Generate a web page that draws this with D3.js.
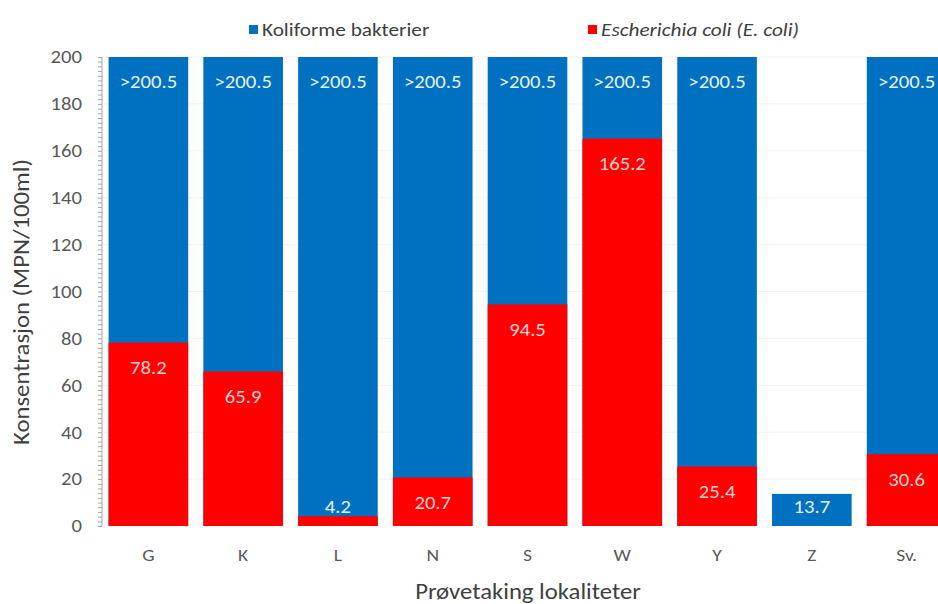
<!DOCTYPE html>
<html>
<head>
<meta charset="utf-8">
<script src="https://cdn.jsdelivr.net/npm/d3@7"></script>
<style>
  html, body { margin: 0; padding: 0; background: #fff; }
  svg { display: block; font-family: Carlito, Lato, "Open Sans", sans-serif; }
</style>
</head>
<body>
<svg id="chart" width="938" height="604"></svg>
<script>
// Sampling sites
const sites = ["G", "K", "L", "N", "S", "W", "Y", "Z", "Sv."];
// Coliform bacteria (MPN/100ml); 200.5 = upper detection limit (shown as ">200.5")
const coliform = [200.5, 200.5, 200.5, 200.5, 200.5, 200.5, 200.5, 13.7, 200.5];
// E. coli (MPN/100ml); null = not reported
const ecoli = [78.2, 65.9, 4.2, 20.7, 94.5, 165.2, 25.4, null, 30.6];
// Axis ticks
const yTicks = [0, 20, 40, 60, 80, 100, 120, 140, 160, 180, 200];
const seriesNames = ["Koliforme bakterier", "Escherichia coli (E. coli)"];
const colors = ["#0070C0", "#FF0000"];

const SX = 1.15; // horizontal glyph stretch

const svg = d3.select("#chart");

// place a text at (px,py) with optional rotation, glyphs stretched along the baseline
function label(sel, px, py, rot) {
  return sel.attr("x", 0).attr("y", 0)
    .attr("transform", (d, i) => {
      const X = typeof px === "function" ? px(d, i) : px;
      const Y = typeof py === "function" ? py(d, i) : py;
      return `translate(${X},${Y})` + (rot ? ` rotate(${rot})` : "") + ` scale(${SX},1)`;
    });
}

const x = d3.scaleBand().domain(sites).range([101, 954]).paddingInner(0.16).paddingOuter(0.08);
const y = d3.scaleLinear().domain([0, 200]).range([526, 57]).clamp(true);

// Light horizontal gridlines
svg.append("g").selectAll("line").data(yTicks.slice(1)).join("line")
  .attr("x1", 103).attr("x2", 938)
  .attr("y1", d => y(d)).attr("y2", d => y(d))
  .attr("stroke", "#f3f3f3").attr("stroke-width", 1);

const fmt = v => v > 200 ? ">" + v.toFixed(1) : v.toFixed(1);
const labelY = v => Math.min(y(v) + 25, y(0) - 19);

// Coliform bars (behind)
const kolData = sites.map((s, i) => ({ s, v: coliform[i] }));
svg.append("g").selectAll("rect").data(kolData).join("rect")
  .attr("x", d => x(d.s)).attr("width", x.bandwidth())
  .attr("y", d => y(d.v)).attr("height", d => y(0) - y(d.v))
  .attr("fill", colors[0]);

// E. coli bars (front)
const ecoliData = sites.map((s, i) => ({ s, v: ecoli[i] })).filter(d => d.v != null);
svg.append("g").selectAll("rect").data(ecoliData).join("rect")
  .attr("x", d => x(d.s)).attr("width", x.bandwidth())
  .attr("y", d => y(d.v)).attr("height", d => y(0) - y(d.v))
  .attr("fill", colors[1]);

// Value labels
const labels = svg.append("g").attr("font-size", 18).attr("text-anchor", "middle");
label(labels.selectAll("text.kol").data(kolData).join("text").attr("class", "kol"),
  d => x(d.s) + x.bandwidth() / 2, d => labelY(d.v))
  .attr("dy", "0.35em").attr("fill", "#e6f2ff")
  .text(d => fmt(d.v));
label(labels.selectAll("text.eco").data(ecoliData).join("text").attr("class", "eco"),
  d => x(d.s) + x.bandwidth() / 2, d => labelY(d.v))
  .attr("dy", "0.35em")
  .attr("fill", d => (y(d.v) + 25 > y(0) - 19 && d.v < 10) ? "#e6f2ff" : "#ffd0d0")
  .text(d => fmt(d.v));

// Y axis with minor ticks every 2
const yAxis = svg.append("g").attr("transform", "translate(102,0)");
yAxis.append("line").attr("x1", 0).attr("x2", 0).attr("y1", y(200)).attr("y2", y(0))
  .attr("stroke", "#a6a6a6");
yAxis.selectAll("line.minor").data(d3.range(0, 201, 2)).join("line")
  .attr("class", "minor")
  .attr("x1", -4).attr("x2", 0)
  .attr("y1", d => y(d) + 0.5).attr("y2", d => y(d) + 0.5)
  .attr("stroke", "#a6a6a6");
label(yAxis.selectAll("text").data(yTicks).join("text"), -20, d => y(d))
  .attr("dy", "0.35em")
  .attr("text-anchor", "end").attr("font-size", 18).attr("fill", "#595959")
  .text(d => d);

// X axis labels
label(svg.append("g").selectAll("text").data(sites).join("text"),
  d => x(d) + x.bandwidth() / 2, 561)
  .attr("text-anchor", "middle").attr("font-size", 17).attr("fill", "#595959")
  .text(d => d);

// Axis titles
label(svg.append("text"), 528, 599)
  .attr("text-anchor", "middle").attr("font-size", 21.5).attr("fill", "#404040")
  .text("Prøvetaking lokaliteter");
label(svg.append("text"), 29, 302, -90)
  .attr("text-anchor", "middle").attr("font-size", 21.5).attr("fill", "#404040")
  .text("Konsentrasjon (MPN/100ml)");

// Legend
const legendX = [249, 588];
const legend = svg.append("g");
seriesNames.forEach((name, i) => {
  legend.append("rect").attr("x", legendX[i]).attr("y", 25).attr("width", 9).attr("height", 9)
    .attr("fill", colors[i]);
  label(legend.append("text"), legendX[i] + 13, 36)
    .attr("font-size", 18.5).attr("fill", "#404040")
    .attr("font-style", i === 1 ? "italic" : "normal")
    .text(name);
});
</script>
</body>
</html>
